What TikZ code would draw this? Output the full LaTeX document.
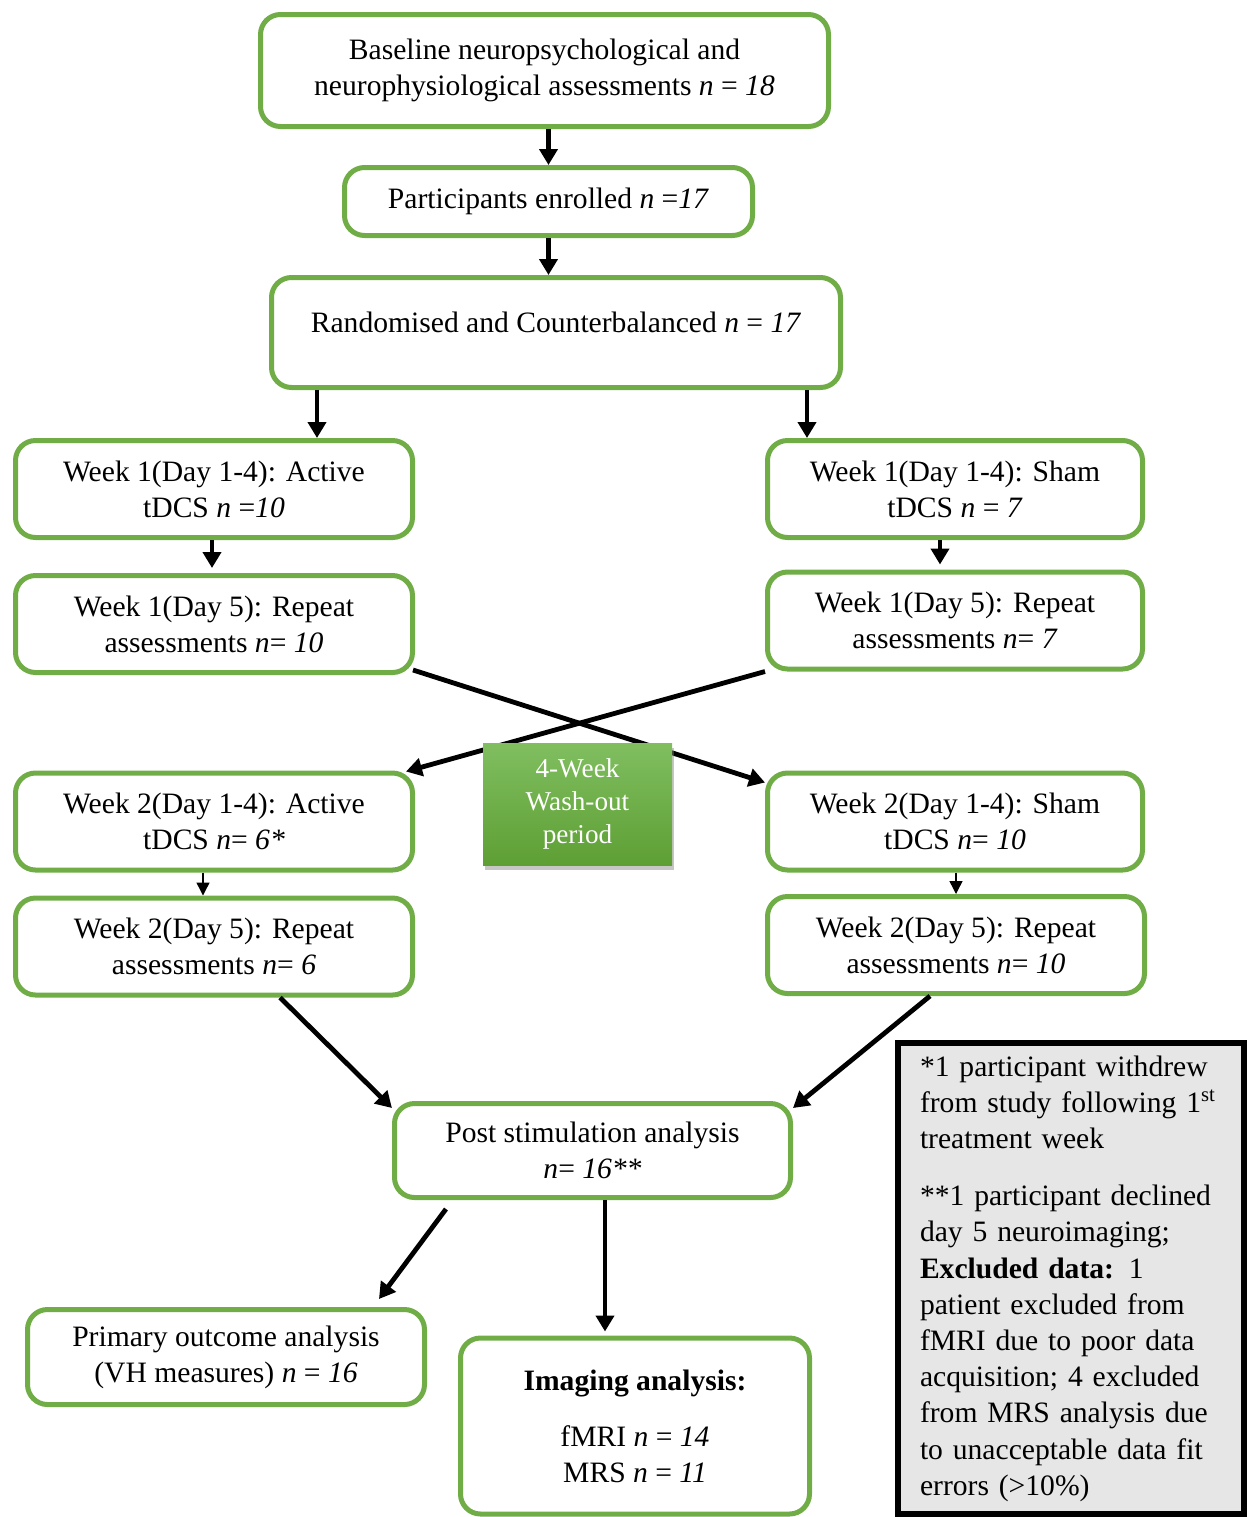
\documentclass[tikz,border=0pt]{standalone}
\usepackage{fontspec}
\setmainfont{Liberation Serif}
\usetikzlibrary{arrows.meta}
\usetikzlibrary{calc, shadows}
\definecolor{boxgreen}{HTML}{70AD47}
\definecolor{washtop}{HTML}{80BE60}
\definecolor{washbot}{HTML}{5E9F34}
\definecolor{notegray}{HTML}{E6E6E6}
\tikzset{
	flowbox/.style={draw=boxgreen, line width=2.5pt, rounded corners=10pt, fill=white,
		align=center, inner sep=0pt, font=\fontsize{14.8}{18}\selectfont},
	arr/.style={line width=2.4pt, -{Triangle[width=9pt, length=8pt]}},
	thinarr/.style={line width=0.7pt, -{Triangle[width=6.5pt, length=6.5pt]}},
	washbox/.style={top color=washtop, bottom color=washbot, text=white, align=center,
		drop shadow={shadow xshift=1pt, shadow yshift=-2.5pt, opacity=0.45},
		font=\fontsize{13.6}{16.5}\selectfont},
	notebox/.style={draw=black, line width=3pt, fill=notegray, align=left, text width=151pt,
		font=\fontsize{14.8}{18.1}\selectfont}
}

\begin{document}
\begin{tikzpicture}[x=0.5pt, y=-0.5pt]
	\useasboundingbox (0,0) rectangle (1247,1517);
	\node[flowbox, minimum width=284pt, minimum height=56pt] (baseline) at (544.5,70.5)
		{Baseline neuropsychological and\\neurophysiological assessments \textit{n} = \textit{18}};
	\node[flowbox, minimum width=204pt, minimum height=34pt] (enrolled) at (548.5,201.5)
		{Participants enrolled \textit{n} =\textit{17}};
	\node[flowbox, minimum width=284.5pt, minimum height=55pt] (random) at (556,332.5)
		{\raisebox{10pt}{Randomised and Counterbalanced \textit{n} = \textit{17}}};
	\node[flowbox, minimum width=198.5pt, minimum height=48.5pt] (w1active) at (214,489)
		{Week 1(Day 1-4): Active\\tDCS \textit{n} =\textit{10}};
	\node[flowbox, minimum width=187.5pt, minimum height=48.5pt] (w1sham) at (955,489)
		{Week 1(Day 1-4): Sham\\tDCS \textit{n} = \textit{7}};
	\node[flowbox, minimum width=198.5pt, minimum height=48.5pt] (w1d5active) at (214,624)
		{Week 1(Day 5): Repeat\\assessments \textit{n}= \textit{10}};
	\node[flowbox, minimum width=187.5pt, minimum height=48.5pt] (w1d5sham) at (955,620.5)
		{Week 1(Day 5): Repeat\\assessments \textit{n}= \textit{7}};
	\node[flowbox, minimum width=198.5pt, minimum height=48.5pt] (w2active) at (214,821.5)
		{Week 2(Day 1-4): Active\\tDCS \textit{n}= \textit{6*}};
	\node[flowbox, minimum width=187.5pt, minimum height=48.5pt] (w2sham) at (955,821.5)
		{Week 2(Day 1-4): Sham\\tDCS \textit{n}= \textit{10}};
	\node[flowbox, minimum width=198.5pt, minimum height=48.5pt] (w2d5active) at (214,946.5)
		{Week 2(Day 5): Repeat\\assessments \textit{n}= \textit{6}};
	\node[flowbox, minimum width=188.5pt, minimum height=48.5pt] (w2d5sham) at (956,945)
		{Week 2(Day 5): Repeat\\assessments \textit{n}= \textit{10}};
	\node[flowbox, minimum width=198pt, minimum height=47pt] (post) at (592.5,1150.5)
		{Post stimulation analysis\\\textit{n}= \textit{16**}};
	\node[flowbox, minimum width=198.5pt, minimum height=47.5pt] (primary) at (226,1357)
		{Primary outcome analysis\\(VH measures) \textit{n} = \textit{16}};
	\node[flowbox, minimum width=174.5pt, minimum height=88pt] (imaging) at (635,1426)
		{\textbf{Imaging analysis:}\\[10pt]fMRI \textit{n} = \textit{14}\\MRS \textit{n} = \textit{11}};
	\node[notebox, minimum width=173pt, minimum height=235.5pt] (note) at (1071,1278.5)
		{*1 participant withdrew\\from study following 1\textsuperscript{st}\\treatment week\\[10.5pt]
		**1 participant declined\\day 5 neuroimaging;\\\textbf{Excluded data:} 1\\patient excluded from\\
		fMRI due to poor data\\acquisition; 4 excluded\\from MRS analysis due\\to unacceptable data fit\\errors (>10\%)};

	% arrows
	\draw[arr] (enrolled.north |- baseline.south) -- (enrolled.north);
	\draw[arr] (enrolled.south) -- (enrolled.south |- random.north);
	\coordinate (ra) at ($(random.south)+(-239,0)$);
	\coordinate (rb) at ($(random.south)+(251,0)$);
	\draw[arr] (ra) -- (ra |- w1active.north);
	\draw[arr] (rb) -- (rb |- w1sham.north);
	\draw[arr] ($(w1active.south)+(-2,0)$) -- ($(w1active.south)+(-2,28)$);
	\draw[arr] ($(w1sham.south)+(-15,0)$) -- ($(w1d5sham.north)+(-15,-5)$);
	\draw[arr] ($(w1d5active.south east)+(-2,-5)$) -- ($(w2sham.north west)+(0,12)$);
	\draw[arr] (w1d5sham.south west) -- ($(w2active.north east)+(-9,1)$);
	\draw[thinarr] ($(w2active.south)+(-11,0)$) -- ($(w2d5active.north)+(-11,0)$);
	\draw[thinarr] ($(w2sham.south)+(1,0)$) -- (w2d5sham.north);
	\draw[arr] ($(w2d5active.south)+(66,0)$) -- ($(post.north west)+(0,7)$);
	\draw[arr] ($(w2d5sham.south)+(-26,0)$) -- ($(post.north east)+(0,7)$);
	\draw[arr] ($(post.south west)+(54,9)$) -- ($(primary.north)+(153,-8)$);
	\draw[arr] ($(post.south)+(12.5,0)$) -- ($(imaging.north)+(-30,-4)$);

	\node[washbox, minimum width=94.5pt, minimum height=61pt] (washout) at (577.5,804)
		{4-Week\\Wash-out\\period};
\end{tikzpicture}
\end{document}
